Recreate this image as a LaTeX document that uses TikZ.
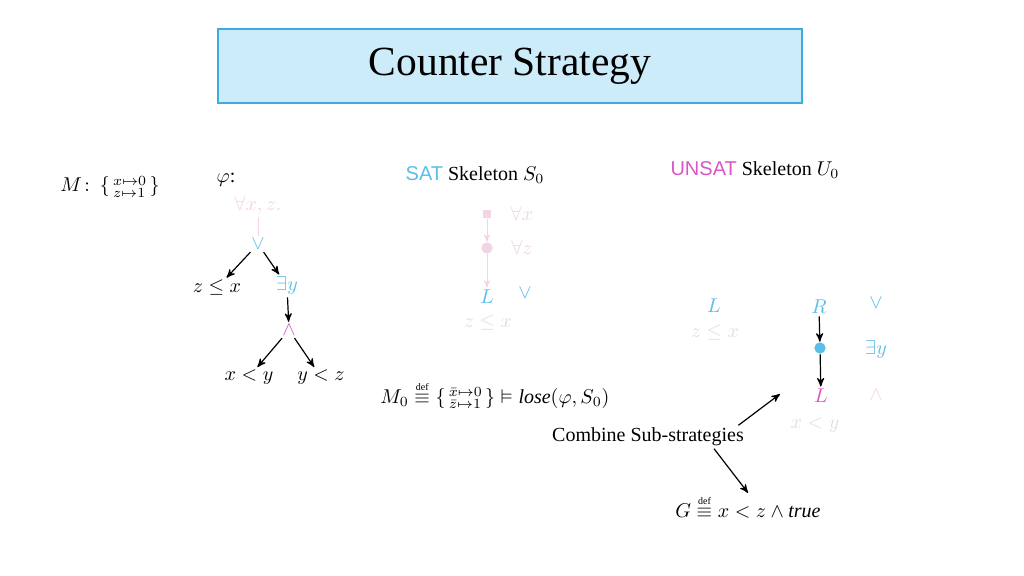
\documentclass[tikz,border=0pt]{standalone}
\usepackage{amsmath}
\usepackage{amssymb}
\usepackage{mathtools}
\usepackage{fontspec}
\setmainfont{Liberation Serif}
\setsansfont{Liberation Sans}
\usetikzlibrary{positioning,arrows}
\definecolor{satblue}{RGB}{90,190,232}
\definecolor{unsatpink}{RGB}{218,85,200}
\definecolor{fadepink}{RGB}{242,212,228}
\definecolor{fadegrey}{RGB}{222,222,222}
\definecolor{titlefill}{RGB}{204,236,249}
\definecolor{titledraw}{RGB}{60,172,222}
\newcommand{\defeq}{\stackrel{\text{\tiny def}}{\equiv}}
\newcommand{\assign}[2]{\left\{\begin{smallmatrix*}[l]#1\\ #2\end{smallmatrix*}\right\}}

\begin{document}
\begin{tikzpicture}[x=0.5pt,y=-0.5pt,>=stealth',semithick,font=\normalsize]
  \tikzstyle{lbl}=[inner sep=1pt]
  \tikzstyle{sat}=[lbl,text=satblue]
  \tikzstyle{unsat}=[lbl,text=unsatpink]
  \tikzstyle{faint}=[lbl,text=fadepink]
  \tikzstyle{grey}=[lbl,text=fadegrey]
  \useasboundingbox (0,0) rectangle (1024,576);

  % Title
  \node[draw=titledraw,fill=titlefill,thick,minimum width=292pt,minimum height=37pt] (title) at (510,66) {\huge Counter Strategy};

  % Formula tree
  \node[lbl] (M) at (110,187) {$M\colon\assign{x\mapsto 0}{z\mapsto 1}$};
  \node[lbl] (phi) at (226,180) {$\varphi$:};
  \node[faint] (Q) at (258,206) {$\forall x,z.$};
  \node[sat] (or) at (258,244) {$\vee$};
  \node[lbl] (zx) at (217,288) {$z\le x$};
  \node[sat] (ex) at (287,286) {$\exists y$};
  \node[unsat] (and) at (289,330) {$\wedge$};
  \node[lbl] (xy) at (249,377) {$x<y$};
  \node[lbl] (yz) at (321,377) {$y<z$};

  \draw[fadepink,thin] (Q) -- (or);
  \draw[->] (or) -- (zx);
  \draw[->] (or) -- (ex);
  \draw[->] (ex) -- (and);
  \draw[->] (and) -- (xy);
  \draw[->] (and) -- (yz);

  % SAT skeleton
  \node[lbl] (satlbl) at (475,175) {{\sffamily\color{satblue}SAT} Skeleton $S_0$};
  \node[fill=fadepink,inner sep=2pt] (s1) at (487,214) {};
  \node[faint] at (522,214) {$\forall x$};
  \node[circle,fill=fadepink,inner sep=2pt] (s2) at (487,248) {};
  \node[faint] at (522,248) {$\forall z$};
  \node[sat] (sL) at (487,297) {$L$};
  \node[sat] at (525,293) {$\vee$};
  \node[grey] at (488,323) {$z\le x$};
  \draw[->,fadepink,thin] (s1) -- (s2);
  \draw[->,fadepink,thin] (s2) -- (sL);

  \node[lbl] (M0) at (495,395) {$M_0\defeq\assign{\bar x\mapsto 0}{\bar z\mapsto 1}\vDash \mathit{lose}(\varphi,S_0)$};

  % UNSAT skeleton
  \node[lbl] (unsatlbl) at (755,170) {{\sffamily\color{unsatpink}UNSAT} Skeleton $U_0$};
  \node[sat] (uL) at (714,306) {$L$};
  \node[grey] at (715,333) {$z\le x$};
  \node[sat] (uR) at (819,307) {$R$};
  \node[sat] at (876,303) {$\vee$};
  \node[circle,fill=satblue,inner sep=2pt] (u2) at (820,348) {};
  \node[sat] at (876,350) {$\exists y$};
  \node[unsat] (uL2) at (821,396) {$L$};
  \node[faint] at (876,395) {$\wedge$};
  \node[grey] at (815,425) {$x<y$};
  \draw[->] (uR) -- (u2);
  \draw[->] (u2) -- (uL2);

  % Combination
  \node[lbl] (comb) at (648,437) {Combine Sub-strategies};
  \node[lbl] (G) at (748,507) {$G\defeq x<z\wedge \mathit{true}$};
  \coordinate (tgt) at (780,394);
  \draw[->] ([xshift=-4pt]comb.north east) -- (tgt);
  \draw[->] ([xshift=33pt]comb.south) -- (G.north);
\end{tikzpicture}
\end{document}
